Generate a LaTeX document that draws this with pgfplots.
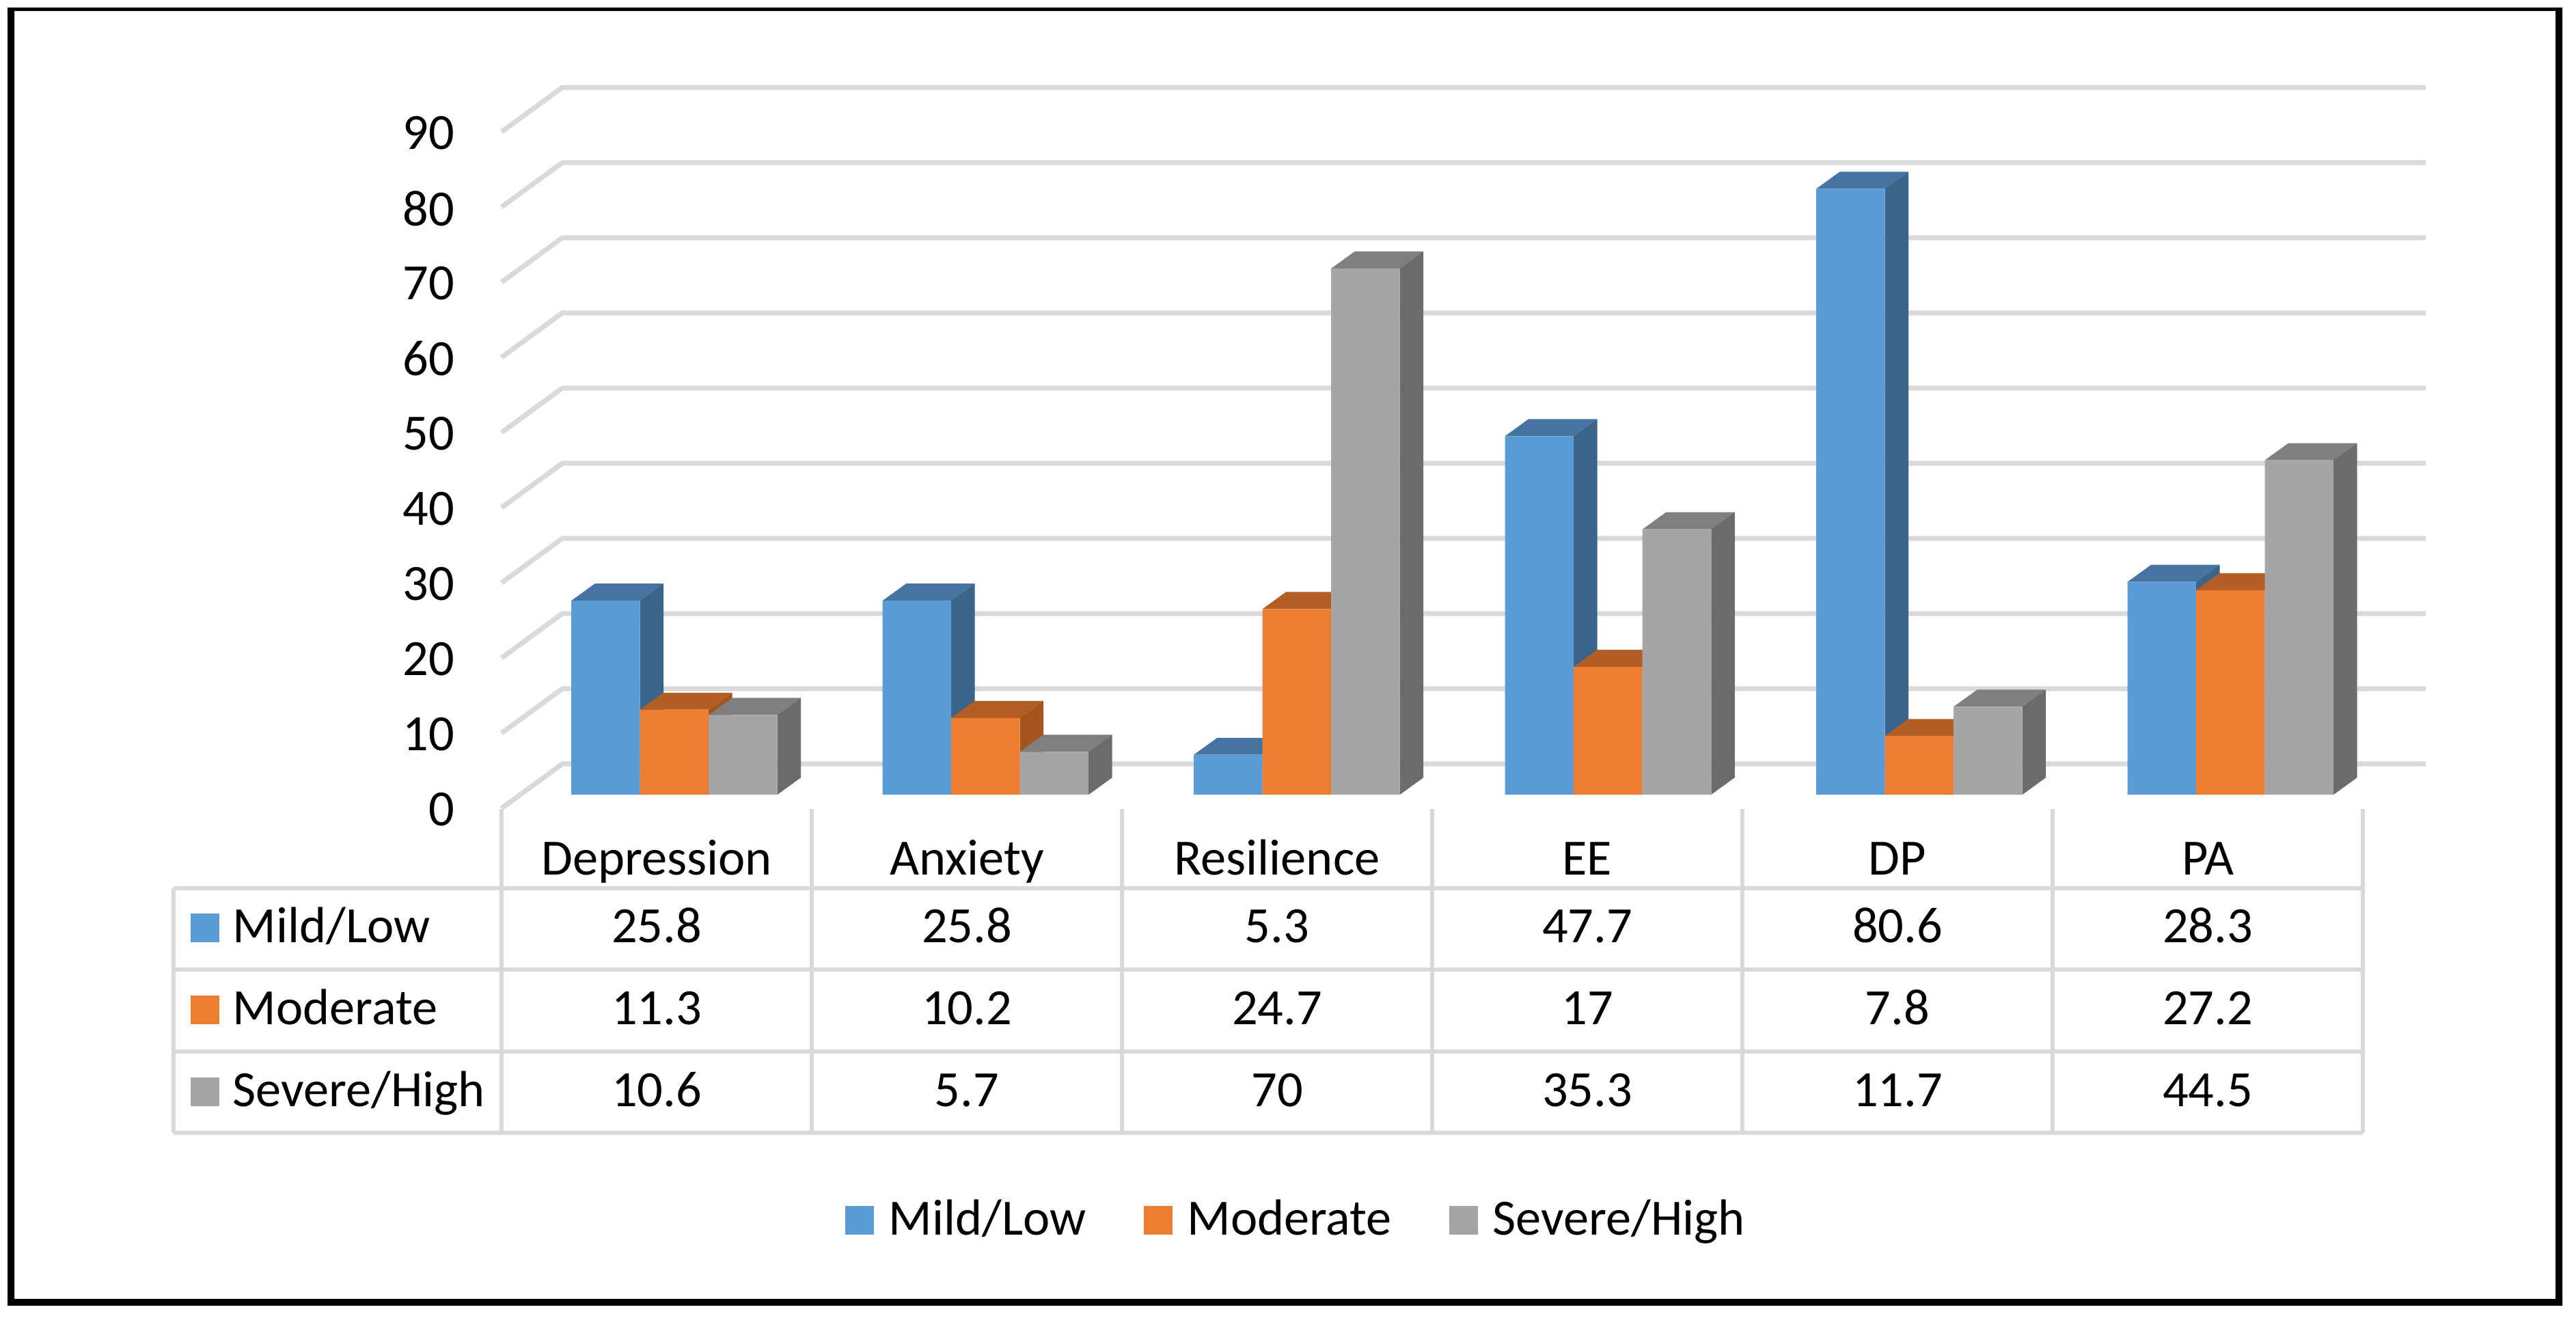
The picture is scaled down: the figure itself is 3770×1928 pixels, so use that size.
\documentclass[border=0pt]{standalone}
\usepackage{fontspec}
\setmainfont{Carlito}
\usepackage{pgfplots}
\usepackage{pgfplotstable}
\pgfplotsset{compat=1.18}

\definecolor{lowF}{HTML}{5B9BD5}
\definecolor{lowT}{HTML}{44749F}
\definecolor{lowS}{HTML}{3A6488}
\definecolor{modF}{HTML}{ED7D31}
\definecolor{modT}{HTML}{B35E24}
\definecolor{modS}{HTML}{A4541E}
\definecolor{higF}{HTML}{A5A5A5}
\definecolor{higT}{HTML}{7F7F7F}
\definecolor{higS}{HTML}{6B6B6B}
\definecolor{rule}{HTML}{D9D9D9}

% x: where each group of bars stands, a little off the table's columns
\pgfplotstableread{
x low mod high
0 25.8 11.3 10.6
1.0033 25.8 10.2 5.7
2.0066 5.3 24.7 70
3.01 47.7 17 35.3
4.0132 80.6 7.8 11.7
5.0165 28.3 27.2 44.5
}\data

% one reference pixel = 0.25pt
\newcommand{\chartfont}{\fontsize{18.6}{22}\selectfont}
\def\bw{0.2215}  % bar width, categories
\def\dx{0.076}   % depth of a bar, categories
\def\dy{2.27}    % depth of a bar, values

% top and side face of each bar of a series
\newcommand{\depthfaces}[4]{%
  \pgfplotsforeachungrouped \r in {0,...,5}{%
    \pgfplotstablegetelem{\r}{x}\of\data
    \let\cx\pgfplotsretval
    \pgfplotstablegetelem{\r}{#1}\of\data
    \let\v\pgfplotsretval
    \pgfmathsetmacro\xa{\cx+#2-\bw/2}
    \pgfmathsetmacro\xb{\xa+\bw}
    \pgfmathsetmacro\xc{\xa+\dx}
    \pgfmathsetmacro\xd{\xb+\dx}
    \pgfmathsetmacro\vt{\v+\dy}
    \edef\tmp{\noexpand\addplot[forget plot,draw=none,fill=#3] coordinates
      {(\xa,\v) (\xb,\v) (\xd,\vt) (\xc,\vt)};
      \noexpand\addplot[forget plot,draw=none,fill=#4] coordinates
      {(\xb,0) (\xb,\v) (\xd,\vt) (\xd,\dy)};}%
    \tmp
  }%
}

\pgfplotsset{
  front/.style={ybar,bar width=\bw,bar shift=#1,draw=none,
    legend image code/.code={\fill[##1] (0pt,0pt) rectangle (10.5pt,10.5pt);}},
}

\begin{document}
\begin{tikzpicture}[x=0.25pt,y=-0.25pt]
\useasboundingbox (0,0) rectangle (3770,1928);
% frame: the top edge is thinner than the others
\fill[black,even odd rule] (11,11) rectangle (3750,1911) (21,16) rectangle (3740,1901);

\begin{axis}[
    at={(183.5pt,-295.75pt)}, anchor=south west,
    scale only axis,
    width=681pt, height=264pt,
    xmin=-0.5, xmax=5.5,
    ymin=-1.818, ymax=94.18,
    clip=false,
    axis line style={draw=none},
    major tick length=0pt,
    xtick={0,1,2,3,4,5},
    xticklabels={Depression,Anxiety,Resilience,EE,DP,PA},
    x tick label style={font=\chartfont,anchor=base,yshift=-24.25pt,inner sep=0pt},
    ytick={-1.818,8.182,18.182,28.182,38.182,48.182,58.182,68.182,78.182,88.182},
    yticklabels={0,10,20,30,40,50,60,70,80,90},
    y tick label style={font=\chartfont,anchor=east,xshift=-17pt,yshift=-0.5pt,inner sep=0pt},
    legend columns=3,
    legend style={draw=none,fill=none,font=\chartfont,inner sep=0pt,
      at={(axis cs:2.058,-56.5)},anchor=center,
      /tikz/column 1/.style={column sep=5.4pt},
      /tikz/column 2/.style={column sep=21pt},
      /tikz/column 3/.style={column sep=5.4pt},
      /tikz/column 4/.style={column sep=21pt},
      /tikz/column 5/.style={column sep=5.4pt},
      nodes={inner sep=0pt,anchor=base west}},
]
% gridlines
\pgfplotsforeachungrouped \g in {0,10,...,90}{%
  \pgfmathsetmacro\ga{\g-1.818}
  \pgfmathsetmacro\gb{\g+4.09}
  \edef\tmp{\noexpand\addplot[forget plot,rule,line width=1.8pt,line join=miter]
    coordinates {(-0.5,\ga) (-0.304,\gb) (5.703,\gb)};}%
  \tmp
}

\depthfaces{low}{-0.1645}{lowT}{lowS}
\addplot[front=-0.1645,fill=lowF] table[x=x,y=low] {\data};
\depthfaces{mod}{0.057}{modT}{modS}
\addplot[front=0.057,fill=modF] table[x=x,y=mod] {\data};
\depthfaces{high}{0.2785}{higT}{higS}
\addplot[front=0.2785,fill=higF] table[x=x,y=high] {\data};
\legend{Mild/Low,Moderate,Severe/High}
\end{axis}

% data table under the chart
\begin{scope}[rule,line width=1.7pt]
  \foreach \y in {1300,1419,1539,1658} \draw (254,\y) -- (3458,\y);
  \draw (254,1300) -- (254,1658);
  \foreach \c in {0,...,6} \draw (734+454*\c,1184) -- (734+454*\c,1658);
\end{scope}
\foreach \name/\col/\key/\y in {{Mild/Low}/lowF/low/1379,{Moderate}/modF/mod/1499,{Severe/High}/higF/high/1619}{
  \fill[\col] (279,\y-42) rectangle (321,\y);
  \node[font=\chartfont,anchor=base west,inner sep=0pt] at (340,\y) {\name};
  \foreach \c in {0,...,5}{
    \pgfplotstablegetelem{\c}{\key}\of\data
    \node[font=\chartfont,anchor=base,inner sep=0pt] at (961+454*\c,\y) {\pgfplotsretval};
  }
}
\end{tikzpicture}
\end{document}
